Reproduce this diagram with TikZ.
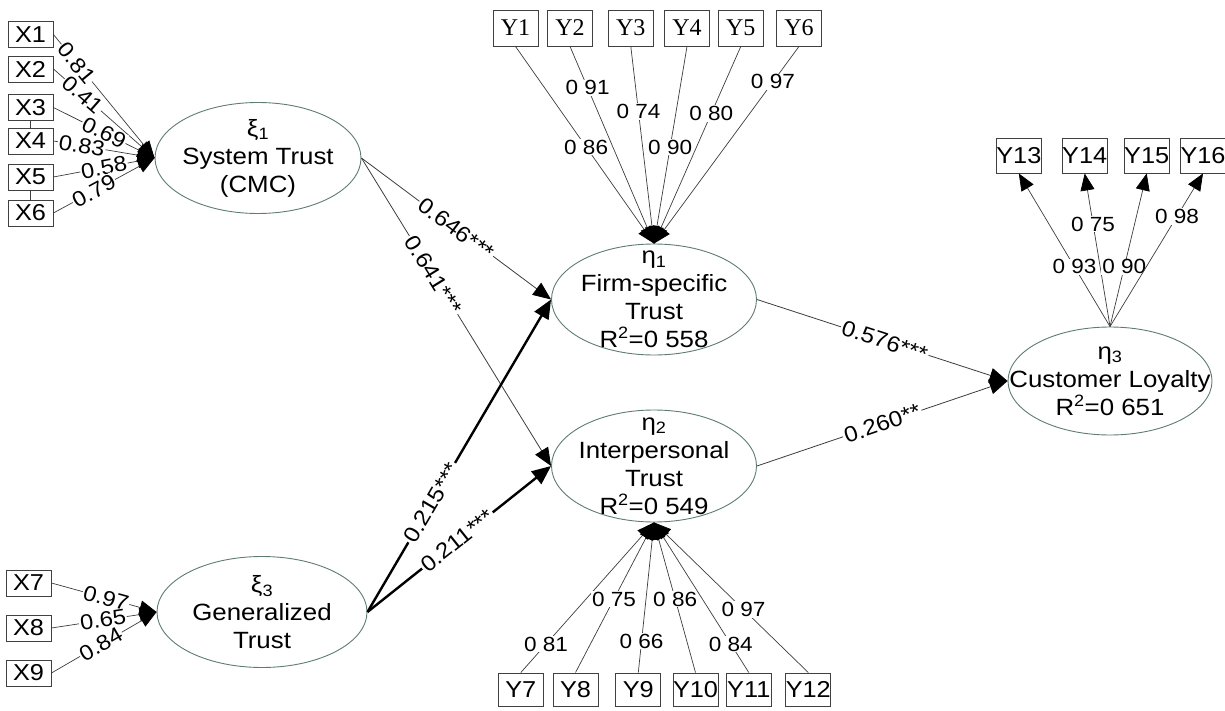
\documentclass[tikz,border=0pt]{standalone}
\usepackage{fontspec}
\setmainfont[FakeStretch=1.1]{Liberation Sans}
\newfontfamily\serifbox{Liberation Serif}
\usetikzlibrary{arrows.meta,shapes.geometric}
\definecolor{ellcol}{RGB}{95,125,110}
\definecolor{lncol}{RGB}{60,60,60}
\tikzset{
  ind/.style={draw=black!75, line width=0.9pt, minimum width=45pt, minimum height=26pt, inner sep=0pt, font=\fontsize{23}{23}\selectfont},
  indy/.style={ind, minimum height=36pt, font=\serifbox\fontsize{24}{24}\selectfont},
  indb/.style={ind, minimum height=33pt},
  indr/.style={ind, minimum width=44pt, minimum height=35pt},
  lat/.style={ellipse, draw=ellcol, line width=0.9pt, minimum width=206pt, minimum height=111pt, inner sep=0pt},
  ltxt/.style={align=center, inner sep=0pt, font=\fontsize{23.5}{28}\selectfont},
  ld/.style={draw=lncol, line width=0.7pt, -{Triangle[length=17pt,width=14pt,color=black]}},
  sd/.style={draw=lncol, line width=0.8pt, -{Triangle[length=18pt,width=15pt,color=black]}},
  td/.style={draw=black, line width=2.4pt, -{Triangle[length=19pt,width=16pt]}},
  lab/.style={fill=white, inner sep=1pt, font=\fontsize{21.5}{21.5}\selectfont},
  laby/.style={fill=white, inner sep=1pt, font=\fontsize{20.5}{20.5}\selectfont},
  labs/.style={fill=white, inner sep=1.5pt, sloped, font=\fontsize{22}{22}\selectfont},
}
\begin{document}
\begin{tikzpicture}[x=1pt, y=-1pt]
\useasboundingbox (0,0) rectangle (1225,711);
% latent variables
\node[lat] (st) at (258,158) {};
\node[lat, minimum width=210pt] (gt) at (262,612) {};
\node[lat, minimum width=205pt] (fs) at (654,299.5) {};
\node[lat, minimum width=205pt, minimum height=112pt] (ip) at (654,466) {};
\node[lat, minimum width=204pt, minimum height=108pt] (cl) at (1110,381) {};
\node[ltxt] (stt) at (st) {ξ\textsubscript{1}\\System Trust\\(CMC)};
\node[ltxt] (gtt) at (gt) {ξ\textsubscript{3}\\Generalized\\Trust};
\node[ltxt] (fst) at (fs) {η\textsubscript{1}\\Firm-specific\\Trust\\R\textsuperscript{2}=0 558};
\node[ltxt] (ipt) at (ip) {η\textsubscript{2}\\Interpersonal\\Trust\\R\textsuperscript{2}=0 549};
\node[ltxt] (clt) at (cl) {η\textsubscript{3}\\Customer Loyalty\\R\textsuperscript{2}=0 651};
% X indicators
\node[ind] (x1) at (30.5,34.5) {X1};
\node[ind] (x2) at (30.5,69) {X2};
\node[ind] (x3) at (30.5,107.5) {X3};
\node[ind] (x4) at (30.5,141) {X4};
\node[ind] (x5) at (30.5,177) {X5};
\node[ind] (x6) at (30.5,213) {X6};
\node[ind] (x7) at (28.5,583) {X7};
\node[ind] (x8) at (28.5,628) {X8};
\node[ind] (x9) at (28.5,673) {X9};
\draw[draw=black!75, line width=0.9pt] (x3.south) -- (x4.north);
\draw[draw=black!75, line width=0.9pt] (x5.south) -- (x6.north);
% Y indicators top
\node[indy] (y1) at (515.5,28) {Y1};
\node[indy] (y2) at (570,28) {Y2};
\node[indy] (y3) at (630.8,28) {Y3};
\node[indy] (y4) at (687,28) {Y4};
\node[indy] (y5) at (740.8,28) {Y5};
\node[indy] (y6) at (799,28) {Y6};
% Y indicators bottom
\node[indb] (y7) at (520.8,689.5) {Y7};
\node[indb] (y8) at (575.5,689.5) {Y8};
\node[indb] (y9) at (638.3,689.5) {Y9};
\node[indb] (y10) at (695.5,689.5) {Y10};
\node[indb] (y11) at (748.8,689.5) {Y11};
\node[indb] (y12) at (808.3,689.5) {Y12};
% Y indicators right
\node[indr] (y13) at (1018.8,155.5) {Y13};
\node[indr] (y14) at (1084.7,155.5) {Y14};
\node[indr] (y15) at (1146.7,155.5) {Y15};
\node[indr] (y16) at (1203,155.5) {Y16};
% X loadings
\draw[ld] (x1.east) -- (st.west) node[lab, sloped, pos=0.23] {0.81};
\draw[ld] (x2.east) -- (st.west) node[lab, sloped, pos=0.29] {0.41};
\draw[ld] (x3.east) -- (st.west) node[lab, sloped, pos=0.5] {0.69};
\draw[ld] (x4.east) -- (st.west) node[lab, sloped, pos=0.28] {0.83};
\draw[ld] (x5.east) -- (st.west) node[lab, sloped, pos=0.5] {0.58};
\draw[ld] (x6.east) -- (st.west) node[lab, sloped, pos=0.4] {0.79};
\draw[ld] (x7.east) -- (gt.west) node[lab, sloped, pos=0.52] {0.97};
\draw[ld] (x8.east) -- (gt.west) node[lab, sloped, pos=0.49] {0.65};
\draw[ld] (x9.east) -- (gt.west) node[lab, sloped, pos=0.47] {0.84};
% Y1-Y6 loadings
\draw[ld] (y1.south) -- (fs.north) node[laby, pos=0.51] {0 86};
\draw[ld] (y2.south) -- (fs.north) node[laby, pos=0.21] {0 91};
\draw[ld] (y3.south) -- (fs.north) node[laby, pos=0.33] {0 74};
\draw[ld] (y4.south) -- (fs.north) node[laby, pos=0.51] {0 90};
\draw[ld] (y5.south) -- (fs.north) node[laby, pos=0.34] {0 80};
\draw[ld] (y6.south) -- (fs.north) node[laby, pos=0.18] {0 97};
% Y7-Y12 loadings
\draw[ld] (y7.north) -- (ip.south) node[laby, pos=0.19] {0 81};
\draw[ld] (y8.north) -- (ip.south) node[laby, pos=0.49] {0 75};
\draw[ld] (y9.north) -- (ip.south) node[laby, pos=0.21] {0 66};
\draw[ld] (y10.north) -- (ip.south) node[laby, pos=0.49] {0 86};
\draw[ld] (y11.north) -- (ip.south) node[laby, pos=0.19] {0 84};
\draw[ld] (y12.north) -- (ip.south) node[laby, pos=0.42] {0 97};
% Y13-Y16 loadings
\draw[ld] (cl.north) -- (y13.south) node[laby, pos=0.39] {0 93};
\draw[ld] (cl.north) -- (y14.south) node[laby, pos=0.67] {0 75};
\draw[ld] (cl.north) -- (y15.south) node[laby, pos=0.39] {0 90};
\draw[ld] (cl.north) -- (y16.south) node[laby, pos=0.72] {0 98};
% structural paths
\draw[sd] (st.east) -- (fs.west) node[labs, pos=0.5] {0.646***};
\draw[sd] (st.east) -- (ip.west) node[labs, pos=0.38] {0.641***};
\draw[td] (gt.east) -- (fs.west) node[labs, pos=0.35] {0.215***};
\draw[td] (gt.east) -- (ip.west) node[labs, pos=0.49] {0.211***};
\draw[sd] (fs.east) -- (cl.west) node[labs, pos=0.51] {0.576***};
\draw[sd] (ip.east) -- (cl.west) node[labs, pos=0.5] {0.260**};
\end{tikzpicture}
\end{document}
